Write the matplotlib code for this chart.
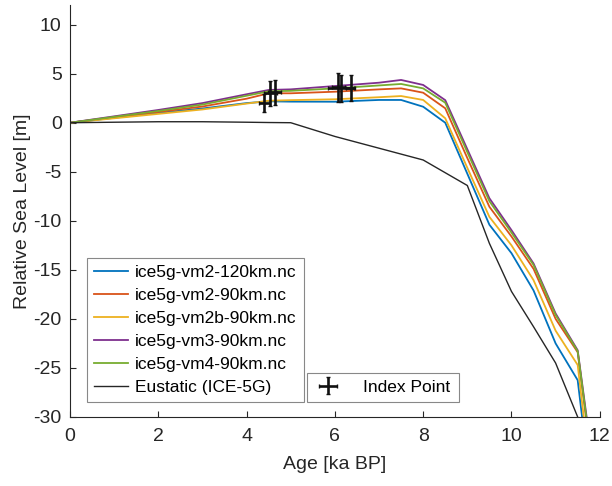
import matplotlib
matplotlib.use("Agg")
import matplotlib.pyplot as plt

# age grid [ka BP]
ages = [0, 1, 2, 3, 4, 4.5, 5, 6, 7, 7.5, 8, 8.5, 9, 9.5, 10, 10.5, 11, 11.5, 12]

rsl_vm2_120 = [0, 0.5, 1.0, 1.45, 2.0, 2.18, 2.15, 2.14, 2.32, 2.32, 1.63, 0.0,
               -5.2, -10.4, -13.3, -17.1, -22.5, -26.25, -45]
rsl_vm2_90 = [0, 0.55, 1.1, 1.65, 2.45, 3.0, 3.0, 3.16, 3.4, 3.5, 3.06, 1.47,
              -3.6, -8.57, -11.6, -14.9, -20.0, -23.4, -41]
rsl_vm2b_90 = [0, 0.45, 0.9, 1.35, 1.95, 2.24, 2.3, 2.39, 2.6, 2.72, 2.32, 0.45,
               -4.6, -9.6, -12.5, -16.05, -21.2, -24.7, -44]
rsl_vm3_90 = [0, 0.65, 1.3, 2.0, 2.9, 3.34, 3.4, 3.74, 4.08, 4.36, 3.85, 2.3,
              -2.7, -7.7, -10.95, -14.35, -19.45, -23.2, -40]
rsl_vm4_90 = [0, 0.6, 1.2, 1.85, 2.75, 3.2, 3.25, 3.5, 3.8, 3.95, 3.5, 2.04,
              -3.0, -8.0, -11.2, -14.5, -19.6, -23.3, -40.5]
eustatic = [0, 0.05, 0.1, 0.1, 0.05, 0.02, 0.0, -1.4, -2.6, -3.2, -3.8, -5.1,
            -6.4, -12.3, -17.2, -20.8, -24.5, -30, -36]

labels = ["ice5g-vm2-120km.nc", "ice5g-vm2-90km.nc", "ice5g-vm2b-90km.nc",
          "ice5g-vm3-90km.nc", "ice5g-vm4-90km.nc", "Eustatic (ICE-5G)"]
colors = ["#0072BD", "#D95319", "#EDB120", "#7E2F8E", "#77AC30", "#262626"]

# index points
idx_age = [4.40, 4.54, 4.64, 6.08, 6.14, 6.36]
idx_rsl = [2.0, 3.0, 3.1, 3.6, 3.5, 3.5]
idx_age_err = [0.13, 0.15, 0.15, 0.15, 0.3, 0.1]
idx_rsl_err = [0.9, 1.3, 1.3, 1.45, 1.35, 1.33]

plt.rcParams["font.family"] = ["Liberation Sans", "DejaVu Sans"]
plt.rcParams["axes.unicode_minus"] = False

fig = plt.figure(figsize=(6.12, 4.86), dpi=100)
ax = fig.add_axes([0.1144, 0.142, 0.8656, 0.8477])

series = [rsl_vm2_120, rsl_vm2_90, rsl_vm2b_90, rsl_vm3_90, rsl_vm4_90, eustatic]
handles = []
for s, c, lab in zip(series, colors, labels):
    lw = 1.0 if lab.startswith("Eustatic") else 1.3
    h, = ax.plot(ages, s, color=c, lw=lw, label=lab)
    handles.append(h)

eb = ax.errorbar(idx_age, idx_rsl, xerr=idx_age_err, yerr=idx_rsl_err,
                 fmt="none", ecolor="#111111", elinewidth=1.9, capsize=1.5,
                 label="Index Point")

ax.set_xlim(0, 12)
ax.set_ylim(-30, 12)
ax.set_xticks(range(0, 13, 2))
ax.set_yticks(range(-30, 11, 5))
ax.spines["top"].set_visible(False)
ax.spines["right"].set_visible(False)
for sp in ("left", "bottom"):
    ax.spines[sp].set_color("#262626")
    ax.spines[sp].set_linewidth(0.8)
ax.tick_params(direction="in", length=4, width=0.8, colors="#262626",
               labelsize=14)
ax.tick_params(axis="x", pad=8)
ax.tick_params(axis="y", pad=6)
ax.set_xlabel("Age [ka BP]", fontsize=14, color="#262626", labelpad=8)
ax.set_ylabel("Relative Sea Level [m]", fontsize=14, color="#262626",
              labelpad=2)

leg1 = ax.legend(handles=handles, loc="lower left",
                 bbox_to_anchor=(0.0315, 0.037), borderaxespad=0,
                 fontsize=12.5, labelspacing=0.45, handlelength=2.0,
                 handletextpad=0.4, borderpad=0.4, fancybox=False,
                 framealpha=1, edgecolor="#888888")
leg1.get_frame().set_linewidth(0.8)
ax.add_artist(leg1)

leg2 = ax.legend(handles=[eb], loc="lower left",
                 bbox_to_anchor=(0.448, 0.037, 0.286, 0.07), mode="expand",
                 borderaxespad=0, fontsize=12.5, handlelength=1.6,
                 handletextpad=1.2, borderpad=0.4, fancybox=False,
                 framealpha=1, edgecolor="#888888")
leg2.get_frame().set_linewidth(0.8)

fig.savefig("out.png", dpi=100)
